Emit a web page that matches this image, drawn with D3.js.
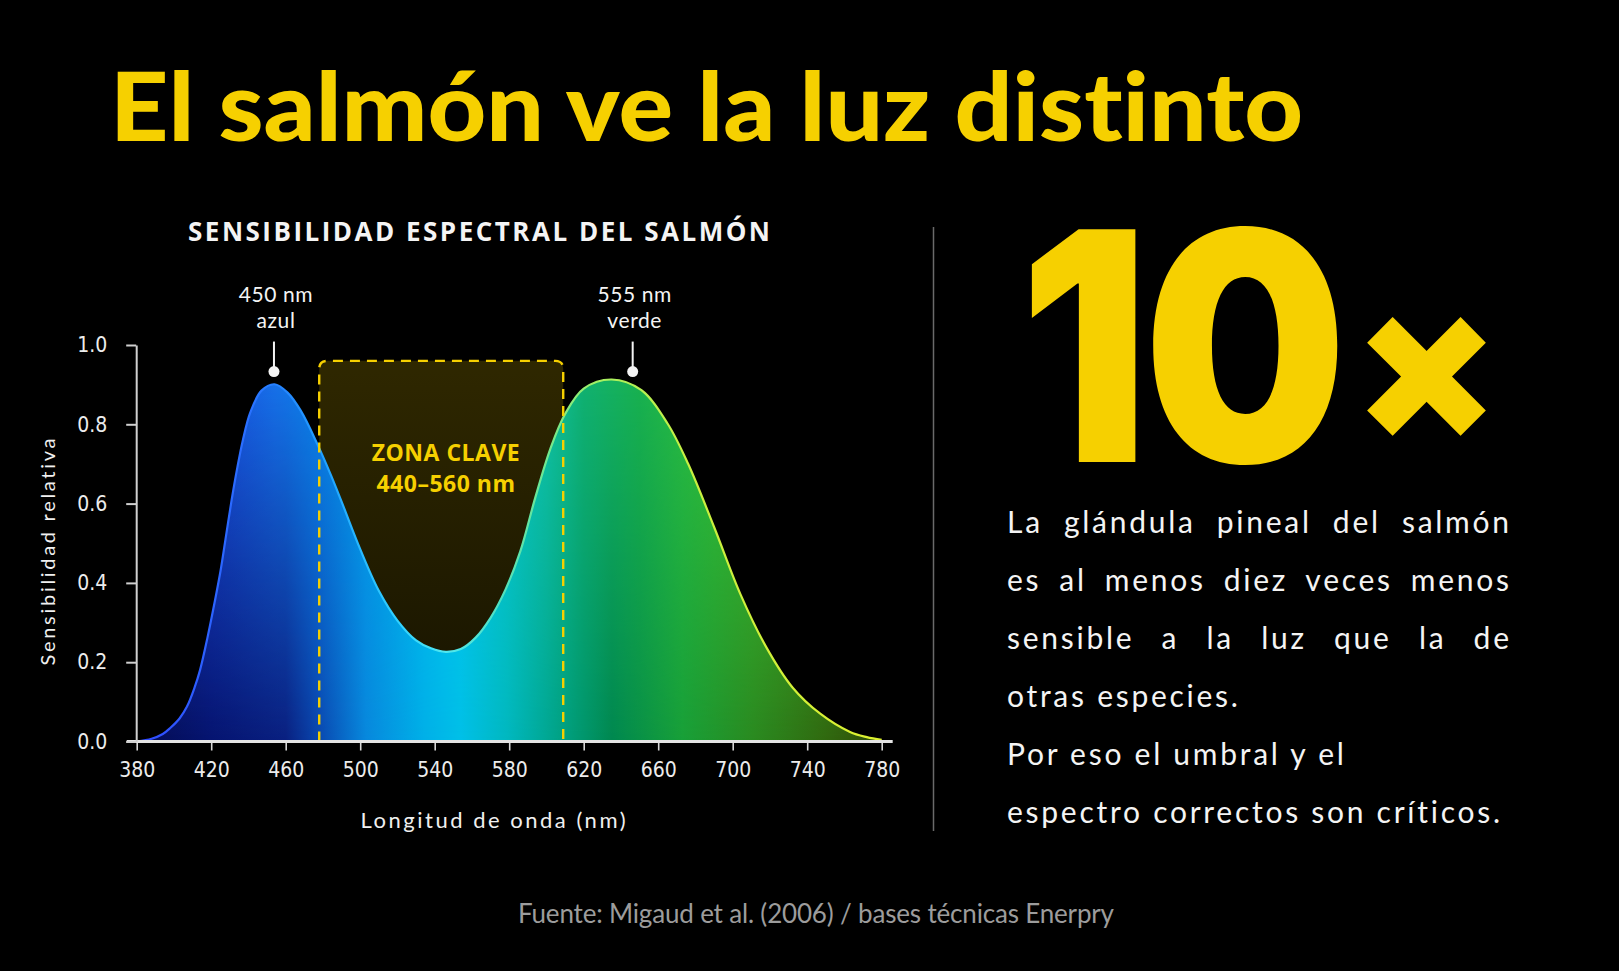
<!DOCTYPE html>
<html>
<head>
<meta charset="utf-8">
<script src="https://cdn.jsdelivr.net/npm/d3@7"></script>
<style>
    html, body { margin: 0; padding: 0; background: #000; }
    svg { display: block; }
    text { font-variant-ligatures: none; }
</style>
</head>
<body>
<div id="canvas"></div>
<script>
"use strict"

/* values */
let wavelengths = [380, 388, 394, 398, 403, 407, 411, 414, 418, 422, 425, 428, 431, 434, 437, 441, 447, 454, 461, 468,
    477, 484, 490, 500, 510, 520, 530, 538, 546, 554, 562, 570, 578, 586, 594, 602, 610, 620, 635,
    651, 665, 676, 690, 704, 718, 732, 747, 763, 772, 780];
let sensitivity = [0, 0.007, 0.019, 0.034, 0.058, 0.088, 0.135, 0.18, 0.262, 0.355, 0.43, 0.52, 0.61, 0.69, 0.76, 0.83, 0.885, 0.901, 0.88, 0.835,
    0.75, 0.675, 0.605, 0.485, 0.38, 0.305, 0.255, 0.235, 0.226, 0.233, 0.262, 0.312, 0.383, 0.48, 0.615, 0.737, 0.826, 0.89, 0.913,
    0.886, 0.802, 0.701, 0.541, 0.373, 0.238, 0.137, 0.07, 0.024, 0.011, 0.004];

let xTicks = [380, 420, 460, 500, 540, 580, 620, 660, 700, 740, 780];
let yTicks = [0, 0.2, 0.4, 0.6, 0.8, 1.0];

let peakPositions = [453.7, 646.3];   // where the markers sit on the axis
let peakValues = [0.933, 0.933];
let peakNames = ["450 nm", "555 nm"];
let peakColours = ["azul", "verde"];

let zoneRange = [478, 609];
let zoneTop = 0.96;
let zoneLabel = ["ZONA CLAVE", "440\u2013560 nm"];

let titleText = "El salm\u00f3n ve la luz distinto";
let chartTitle = "SENSIBILIDAD ESPECTRAL DEL SALM\u00d3N";
let bigNumber = "10";
let bigSign = "\u00d7";
let bodyLines = [
    "La gl\u00e1ndula pineal del salm\u00f3n",
    "es al menos diez veces menos",
    "sensible a la luz que la de",
    "otras especies.",
    "Por eso el umbral y el",
    "espectro correctos son cr\u00edticos."
];
let justified = [true, true, true, false, false, false];
let sourceText = "Fuente: Migaud et al. (2006) / bases t\u00e9cnicas Enerpry";

/* colours along the spectrum */
let topStops = [[380, "#2040d8"], [420, "#1a50e0"], [454, "#1670e8"], [480, "#0a84e8"], [510, "#00a0e8"], [545, "#00c4f0"],
    [575, "#08c8c8"], [600, "#10c0a0"], [620, "#10b070"], [650, "#18b050"], [690, "#34c03a"], [730, "#48c030"], [780, "#5aa820"]];
let bottomStops = [[380, "#050c50"], [420, "#061470"], [460, "#0a2080"], [478, "#0a48b0"], [503, "#0888dd"], [534, "#00b0e8"],
    [554, "#00c0e8"], [579, "#00b8c0"], [610, "#00a080"], [635, "#008850"], [673, "#18a038"], [711, "#2a8a20"], [749, "#306a10"], [780, "#304a08"]];
let strokeStops = [[380, "#3048ff"], [440, "#2a70ff"], [480, "#20a0ff"], [520, "#30d0ff"], [546, "#50e8f0"], [575, "#50e0c0"],
    [600, "#70e890"], [630, "#a8f060"], [680, "#c8f040"], [780, "#dcf030"]];

const W = 1619, H = 971;
const YELLOW = "#f6d000";

let drawing = d3.select("#canvas")
    .append("svg")
    .attr("width", W)
    .attr("height", H);

drawing.append("rect")
    .attr("width", W)
    .attr("height", H)
    .attr("fill", "#000");

let x = d3.scaleLinear().domain([380, 780]).range([136.7, 881.7]);
let y = d3.scaleLinear().domain([0, 1]).range([741.5, 345]);

let data = wavelengths.map((w, i) => ({ wl: w, v: sensitivity[i] }));

/* gradients */
let defs = drawing.append("defs");

function spectrumGradient(id, stops) {
    let g = defs.append("linearGradient")
        .attr("id", id)
        .attr("gradientUnits", "userSpaceOnUse")
        .attr("x1", x(380)).attr("y1", 0)
        .attr("x2", x(780)).attr("y2", 0);
    g.selectAll("stop").data(stops).join("stop")
        .attr("offset", d => (d[0] - 380) / 400)
        .attr("stop-color", d => d[1]);
}
spectrumGradient("fillTop", topStops);
spectrumGradient("fillBottom", bottomStops);
spectrumGradient("edge", strokeStops);

let fade = defs.append("linearGradient")
    .attr("id", "fade")
    .attr("gradientUnits", "userSpaceOnUse")
    .attr("x1", 0).attr("y1", y(0.9))
    .attr("x2", 0).attr("y2", y(0));
fade.append("stop").attr("offset", 0).attr("stop-color", "#fff");
fade.append("stop").attr("offset", 1).attr("stop-color", "#000");

defs.append("mask")
    .attr("id", "fadeMask")
    .attr("maskUnits", "userSpaceOnUse")
    .attr("x", 0).attr("y", 0).attr("width", W).attr("height", H)
    .append("rect")
    .attr("width", W).attr("height", H)
    .attr("fill", "url(#fade)");

let zoneFill = defs.append("linearGradient")
    .attr("id", "zoneFill")
    .attr("x1", 0).attr("y1", 0).attr("x2", 0).attr("y2", 1);
zoneFill.append("stop").attr("offset", 0).attr("stop-color", YELLOW).attr("stop-opacity", 0.19);
zoneFill.append("stop").attr("offset", 1).attr("stop-color", YELLOW).attr("stop-opacity", 0.09);

/* title */
drawing.append("text")
    .attr("x", 110)
    .attr("y", 141)
    .attr("fill", YELLOW)
    .style("font-family", "Lato, 'Open Sans', sans-serif")
    .style("font-weight", 900)
    .style("font-size", "96px")
    .attr("textLength", 1193)
    .attr("lengthAdjust", "spacingAndGlyphs")
    .text(titleText);

drawing.append("text")
    .attr("x", 479)
    .attr("y", 240.5)
    .attr("text-anchor", "middle")
    .attr("fill", "#f4f4f4")
    .style("font-family", "'Open Sans', Lato, sans-serif")
    .style("font-weight", 700)
    .style("font-size", "26px")
    .attr("textLength", 582)
    .attr("lengthAdjust", "spacing")
    .text(chartTitle);

/* key zone, fill behind the curve */
let zx0 = x(zoneRange[0]), zx1 = x(zoneRange[1]), zy0 = y(zoneTop), zyb = y(0), r = 8;
let zonePath = `M${zx0},${zyb} V${zy0 + r} Q${zx0},${zy0} ${zx0 + r},${zy0} H${zx1 - r} Q${zx1},${zy0} ${zx1},${zy0 + r} V${zyb}`;

drawing.append("path")
    .attr("d", zonePath + " Z")
    .attr("fill", "url(#zoneFill)");

/* sensitivity curve */
let area = d3.area()
    .x(d => x(d.wl))
    .y0(y(0))
    .y1(d => y(d.v))
    .curve(d3.curveCatmullRom.alpha(0.5));

let line = d3.line()
    .x(d => x(d.wl))
    .y(d => y(d.v))
    .curve(d3.curveCatmullRom.alpha(0.5));

drawing.append("path")
    .datum(data)
    .attr("d", area)
    .attr("fill", "url(#fillBottom)");

drawing.append("path")
    .datum(data)
    .attr("d", area)
    .attr("fill", "url(#fillTop)")
    .attr("mask", "url(#fadeMask)");

drawing.append("path")
    .datum(data)
    .attr("d", line)
    .attr("fill", "none")
    .attr("stroke", "url(#edge)")
    .attr("stroke-width", 2.2);

drawing.append("path")
    .attr("d", zonePath)
    .attr("fill", "none")
    .attr("stroke", YELLOW)
    .attr("stroke-width", 2.4)
    .attr("stroke-dasharray", "10 7");

drawing.append("text")
    .attr("text-anchor", "middle")
    .attr("fill", YELLOW)
    .style("font-family", "'Open Sans', Lato, sans-serif")
    .style("font-weight", 700)
    .style("font-size", "23px")
    .style("letter-spacing", "0.5px")
    .selectAll("tspan")
    .data(zoneLabel)
    .join("tspan")
    .attr("x", 446)
    .attr("y", (d, i) => 461 + i * 31)
    .text(d => d);

/* axes */
let tickFont = "'Liberation Sans Narrow', 'DejaVu Sans Condensed', Roboto, sans-serif";

let gx = drawing.append("g")
    .attr("transform", `translate(0,${y(0)})`)
    .call(d3.axisBottom(x).tickValues(xTicks).tickSize(9).tickPadding(12).tickSizeOuter(0));
gx.select(".domain").remove();
gx.selectAll("line").attr("stroke", "#d8d8d8").attr("stroke-width", 1.6);
gx.selectAll("text")
    .attr("fill", "#ececec")
    .style("font-family", tickFont)
    .style("font-size", "21px");

drawing.append("line")
    .attr("x1", x(380) - 10).attr("x2", x(780) + 11)
    .attr("y1", y(0)).attr("y2", y(0))
    .attr("stroke", "#e4e4e4")
    .attr("stroke-width", 3);

let gy = drawing.append("g")
    .attr("transform", `translate(${x(380) - 0.5},0)`)
    .call(d3.axisLeft(y).tickValues(yTicks).tickFormat(d3.format(".1f")).tickSize(10).tickPadding(19).tickSizeOuter(0));
gy.select(".domain").attr("stroke", "#d0d0d0").attr("stroke-width", 2);
gy.selectAll("line").attr("stroke", "#d0d0d0").attr("stroke-width", 2);
gy.selectAll("text")
    .attr("fill", "#ececec")
    .style("font-family", tickFont)
    .style("font-size", "21px");

drawing.append("text")
    .attr("x", 493)
    .attr("y", 828)
    .attr("text-anchor", "middle")
    .attr("fill", "#f0f0f0")
    .style("font-family", "Lato, sans-serif")
    .style("font-size", "22px")
    .attr("textLength", 265)
    .attr("lengthAdjust", "spacing")
    .text("Longitud de onda (nm)");

drawing.append("text")
    .attr("transform", "translate(55,552) rotate(-90)")
    .attr("text-anchor", "middle")
    .attr("fill", "#f0f0f0")
    .style("font-family", "Lato, sans-serif")
    .style("font-size", "20px")
    .attr("textLength", 227)
    .attr("lengthAdjust", "spacing")
    .text("Sensibilidad relativa");

/* peak markers */
let peaks = peakPositions.map((p, i) => ({ p: p, v: peakValues[i], name: peakNames[i], colour: peakColours[i] }));

let marks = drawing.selectAll(".peak")
    .data(peaks)
    .join("g")
    .attr("transform", d => `translate(${x(d.p)},${y(d.v)})`);

marks.append("line")
    .attr("x1", 0).attr("x2", 0)
    .attr("y1", -30).attr("y2", -4)
    .attr("stroke", "#f4f4f4")
    .attr("stroke-width", 2);

marks.append("circle")
    .attr("r", 5.5)
    .attr("fill", "#f4f4f4");

let peakText = marks.append("text")
    .attr("text-anchor", "middle")
    .attr("fill", "#f4f4f4")
    .style("font-family", "Lato, sans-serif")
    .style("font-size", "21px")
    .style("letter-spacing", "0.6px");
peakText.append("tspan").attr("x", 2).attr("y", -70).text(d => d.name);
peakText.append("tspan").attr("x", 2).attr("y", -43.5).text(d => d.colour);

/* right panel */
drawing.append("line")
    .attr("x1", 933.5).attr("x2", 933.5)
    .attr("y1", 227).attr("y2", 831)
    .attr("stroke", "#6a6a6a")
    .attr("stroke-width", 1.5);

drawing.append("text")
    .attr("transform", "translate(1019.3,462) scale(0.895,1)")
    .attr("fill", YELLOW)
    .style("font-family", "Inter, Roboto, sans-serif")
    .style("font-weight", 900)
    .style("font-size", "320px")
    .style("letter-spacing", "-6px")
    .text(bigNumber);

drawing.append("text")
    .attr("x", 1426.5)
    .attr("y", 439)
    .attr("text-anchor", "middle")
    .attr("fill", YELLOW)
    .style("font-family", "Inter, Roboto, sans-serif")
    .style("font-weight", 900)
    .style("font-size", "212px")
    .text(bigSign);

/* paragraph: spread the letters so the last line is as wide as in the picture,
   then justify the first three lines with word spacing */
let bodyFont = "Lato, sans-serif";
let bodySize = 30;
let bodyLeft = 1007, bodyRight = 1509;
let lastLineWidth = 493;

let probe = drawing.append("text")
    .style("font-family", bodyFont)
    .style("font-size", bodySize + "px")
    .text(bodyLines[5]);
let natural = probe.node().getComputedTextLength();
probe.remove();
let spacing = (lastLineWidth - natural) / (bodyLines[5].length - 1);

bodyLines.forEach((txt, i) => {
    let t = drawing.append("text")
        .attr("x", bodyLeft)
        .attr("y", 533 + i * 58)
        .attr("fill", "#f4f4f4")
        .style("font-family", bodyFont)
        .style("font-size", bodySize + "px")
        .style("letter-spacing", spacing + "px")
        .text(txt);

    if (justified[i]) {
        let w = t.node().getComputedTextLength() - spacing;
        let gaps = txt.split(" ").length - 1;
        t.style("word-spacing", ((bodyRight - bodyLeft - w) / gaps) + "px");
    }
});

drawing.append("text")
    .attr("x", 518)
    .attr("y", 923)
    .attr("fill", "#9c9c9c")
    .style("font-family", "Lato, sans-serif")
    .style("font-size", "26px")
    .attr("textLength", 596)
    .attr("lengthAdjust", "spacing")
    .text(sourceText);
</script>
</body>
</html>
